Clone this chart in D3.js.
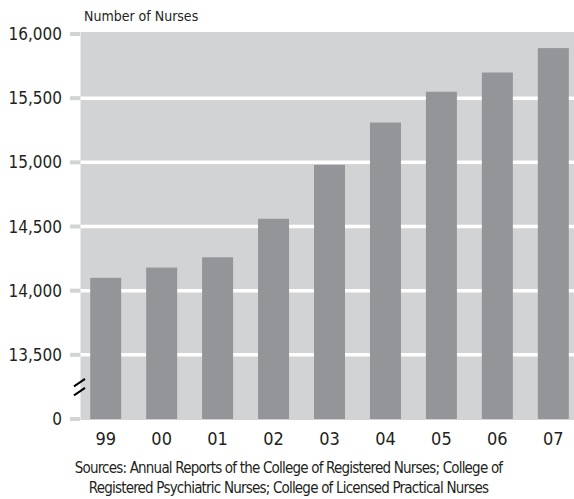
<!DOCTYPE html>
<meta charset="utf-8">
<style>
  body { margin: 0; background: #fff; }
  text { font-family: 'Liberation Sans Narrow', 'DejaVu Sans Condensed', 'Roboto', sans-serif; fill: #231f20; }
</style>
<script src="https://d3js.org/d3.v7.min.js"></script>
<div id="my_dataviz"></div>
<script>

// data
var years = ["99", "00", "01", "02", "03", "04", "05", "06", "07"];
var nurses = [14100, 14180, 14260, 14560, 14980, 15310, 15550, 15700, 15890];
var yTicks = [0, 13500, 14000, 14500, 15000, 15500, 16000];
var sourceLines = [
  "Sources:  Annual Reports of the College of Registered Nurses; College of",
  "Registered Psychiatric Nurses; College of Licensed Practical Nurses"
];

var W = 574, H = 499;
var plotLeft = 80, plotRight = 574, plotTop = 32, plotBottom = 420;

var svg = d3.select("#my_dataviz")
  .append("svg")
    .attr("width", W)
    .attr("height", H);

// x scale - one band per year
var x = d3.scaleBand()
  .domain(years)
  .range([79, 580])
  .paddingInner(0.446)
  .paddingOuter(0.2);

// y scale with a broken axis: 0 sits where 13,000 would be
var y = d3.scaleLinear()
  .domain([13000, 16000])
  .range([419, 34]);
function yPos(v) { return v === 0 ? y(13000) : y(v); }

// plot background
svg.append("rect")
  .attr("x", plotLeft)
  .attr("y", plotTop)
  .attr("width", plotRight - plotLeft)
  .attr("height", plotBottom - plotTop)
  .attr("fill", "#d1d3d4");

svg.append("line")
  .attr("x1", plotLeft + 0.5).attr("x2", plotLeft + 0.5)
  .attr("y1", plotTop).attr("y2", plotBottom)
  .attr("stroke", "#e8e9ea");

// white gridlines (not for 0 and the top)
svg.selectAll(".grid")
  .data(yTicks.filter(function(d) { return d !== 0 && d !== 16000; }))
  .enter().append("line")
    .attr("class", "grid")
    .attr("x1", plotLeft + 1).attr("x2", plotRight)
    .attr("y1", function(d) { return yPos(d); })
    .attr("y2", function(d) { return yPos(d); })
    .attr("stroke", "#fff")
    .attr("stroke-width", 3.5);

// small grey tick marks outside the plot
svg.selectAll(".tickmark")
  .data(yTicks)
  .enter().append("rect")
    .attr("class", "tickmark")
    .attr("x", 70)
    .attr("y", function(d) { return yPos(d) - 2; })
    .attr("width", 10)
    .attr("height", 4)
    .attr("fill", "#d1d3d4");

// y tick labels
svg.selectAll(".ylab")
  .data(yTicks)
  .enter().append("text")
    .attr("class", "ylab")
    .attr("x", 62)
    .attr("y", function(d) { return yPos(d) + 6; })
    .attr("text-anchor", "end")
    .style("font-size", "17px")
    .text(function(d) { return d3.format(",")(d); });

// bars
svg.selectAll(".bar")
  .data(nurses)
  .enter().append("rect")
    .attr("class", "bar")
    .attr("x", function(d, i) { return x(years[i]); })
    .attr("y", function(d) { return yPos(d); })
    .attr("width", x.bandwidth())
    .attr("height", function(d) { return yPos(0) - yPos(d); })
    .attr("fill", "#939598");

// axis break mark between 0 and 13,500
var yb = (yPos(0) + yPos(13500)) / 2;
[-4.5, 4.5].forEach(function(off) {
  svg.append("line")
    .attr("x1", 74).attr("y1", yb + off + 4)
    .attr("x2", 85).attr("y2", yb + off - 3.5)
    .attr("stroke", "#000")
    .attr("stroke-width", 2);
});

// x labels
svg.selectAll(".xlab")
  .data(years)
  .enter().append("text")
    .attr("class", "xlab")
    .attr("x", function(d) { return x(d) + x.bandwidth() / 2; })
    .attr("y", 445)
    .attr("text-anchor", "middle")
    .style("font-size", "18px")
    .text(function(d) { return d; });

// axis title
svg.append("text")
  .attr("x", 84)
  .attr("y", 21)
  .style("font-size", "14px")
  .text("Number of Nurses");

// source note
svg.selectAll(".src")
  .data(sourceLines)
  .enter().append("text")
    .attr("class", "src")
    .attr("x", 288.5)
    .attr("y", function(d, i) { return 473 + i * 20; })
    .attr("text-anchor", "middle")
    .style("font-size", "15px")
    .style("letter-spacing", "-0.8px")
    .text(function(d) { return d; });

</script>
